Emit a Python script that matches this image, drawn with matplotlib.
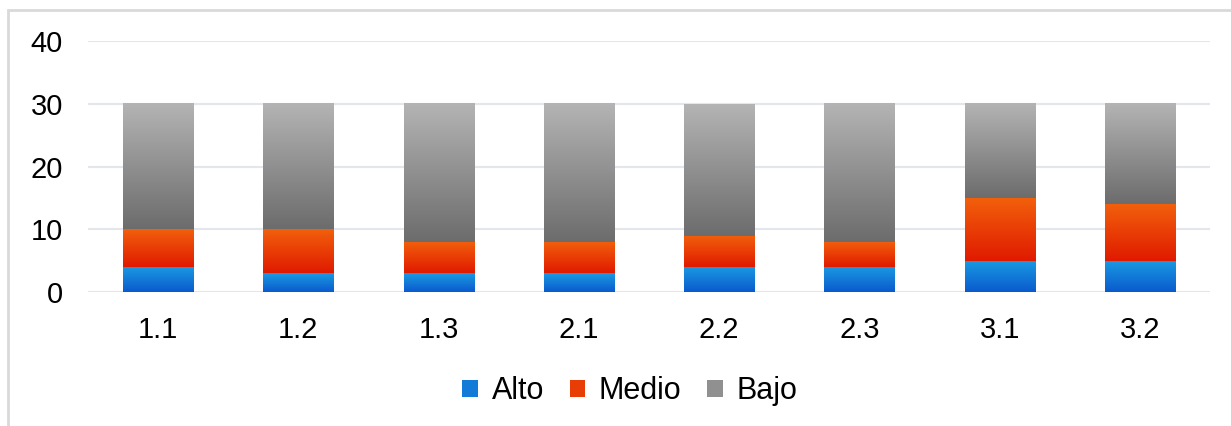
import matplotlib.pyplot as plt
import matplotlib.colors as mcolors
from matplotlib.patches import Patch, Rectangle
import numpy as np

plt.rcParams['font.family'] = ['Liberation Sans', 'DejaVu Sans']

# Data
categories = ["1.1", "1.2", "1.3", "2.1", "2.2", "2.3", "3.1", "3.2"]
alto = [4, 3, 3, 3, 4, 4, 5, 5]
medio = [6, 7, 5, 5, 5, 4, 10, 9]
bajo = [20, 20, 22, 22, 21, 22, 15, 16]

series = [
    ("Alto", alto, "#1a9be2", "#0a5acd"),
    ("Medio", medio, "#f2600c", "#e01a00"),
    ("Bajo", bajo, "#b4b4b4", "#6c6c6c"),
]

fig = plt.figure(figsize=(12.31, 4.26), dpi=100)
ax = fig.add_axes([88 / 1231, 1 - 292 / 426, (1210 - 88) / 1231, (292 - 41) / 426])

# outer chart frame
fig.patches.append(Rectangle((8 / 1231, -0.01), 1.02, 1 - 10 / 426 + 0.01,
                             transform=fig.transFigure, fill=False,
                             edgecolor="#d9d9d9", linewidth=2, zorder=0))

x = np.arange(len(categories))
bottom = np.zeros(len(categories))
handles = []
for name, vals, top_c, bot_c in series:
    bars = ax.bar(x, vals, width=0.5, bottom=bottom, color=top_c, zorder=2)
    cmap = mcolors.LinearSegmentedColormap.from_list(name, [bot_c, top_c])
    grad = np.linspace(0, 1, 256).reshape(-1, 1)
    for b in bars:
        x0, y0 = b.get_x(), b.get_y()
        ax.imshow(grad, extent=[x0, x0 + b.get_width(), y0, y0 + b.get_height()],
                  origin="lower", cmap=cmap, aspect="auto", zorder=3,
                  interpolation="bilinear")
    bottom += np.array(vals)
    handles.append(Patch(facecolor=cmap(0.5), label=name))

ax.set_xlim(-0.5, len(categories) - 0.5)
ax.set_ylim(0, 40)
ax.set_yticks([0, 10, 20, 30, 40])
ax.set_xticks(x)
ax.set_xticklabels(categories)
ax.yaxis.grid(True, color="#e3e6ea", linewidth=1.5, zorder=0)
ax.set_axisbelow(True)
for s in ax.spines.values():
    s.set_visible(False)
ax.tick_params(axis="both", length=0, labelsize=21, colors="#000000")
ax.tick_params(axis="x", pad=17)
ax.tick_params(axis="y", pad=18)

ax.legend(handles=handles, loc="center", bbox_to_anchor=(0.483, -0.395),
          ncol=3, frameon=False, fontsize=22, handlelength=0.5,
          handleheight=0.5, handletextpad=0.45, columnspacing=0.85)

plt.savefig("out.png", dpi=100)
